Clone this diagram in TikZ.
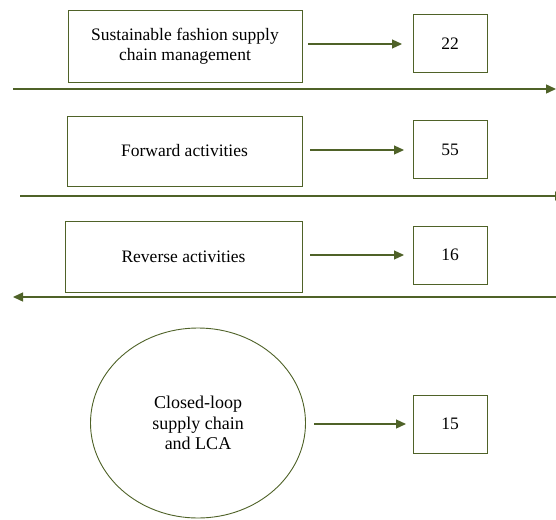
\documentclass[tikz,border=0pt]{standalone}
\usepackage{fontspec}
\setmainfont{Liberation Serif}
\usetikzlibrary{arrows.meta,shapes.geometric}
\definecolor{olive}{RGB}{79,98,40}
\begin{document}
\begin{tikzpicture}[x=1pt,y=-1pt,
  box/.style={draw=olive,line width=0.9pt,fill=white,inner sep=0pt,align=center,font=\fontsize{17.5}{20.5}\selectfont},
  numbox/.style={box,minimum width=74pt,minimum height=58pt},
  lnk/.style={draw=olive,line width=1.2pt,-{Triangle[length=10pt,width=9pt]}},
  longar/.style={draw=olive,line width=1.4pt,-{Triangle[length=10pt,width=9pt]}}]
\useasboundingbox (0,0) rectangle (556,519);
\clip (0,0) rectangle (556,519);
% row 1
\node[box,minimum width=234pt,minimum height=72pt] (a) at (185,46) {Sustainable fashion supply\\chain management};
\node[numbox] (an) at (450,43.5) {22};
\coordinate (a1) at (308,44);
\coordinate (a2) at (402,44);
\draw[lnk] (a1) -- (a2);
\coordinate (l1s) at (13,89);
\coordinate (l1e) at (556,89);
\draw[longar] (l1s) -- (l1e);
% row 2
\node[box,minimum width=235pt,minimum height=70pt] (b) at (184.5,151) {Forward activities};
\node[numbox] (bn) at (450,149.5) {55};
\coordinate (b1) at (310,150);
\coordinate (b2) at (404,150);
\draw[lnk] (b1) -- (b2);
\coordinate (l2s) at (20,196);
\coordinate (l2e) at (565,196);
\draw[longar] (l2s) -- (l2e);
% row 3
\node[box,minimum width=237pt,minimum height=71pt] (c) at (183.5,256.5) {Reverse activities};
\node[numbox] (cn) at (450,255) {16};
\coordinate (c1) at (310,255);
\coordinate (c2) at (404,255);
\draw[lnk] (c1) -- (c2);
\coordinate (l3s) at (556,297);
\coordinate (l3e) at (13,297);
\draw[longar] (l3s) -- (l3e);
% row 4
\node[draw=olive,line width=0.9pt,ellipse,minimum width=215pt,minimum height=190pt,inner sep=0pt,align=center,font=\fontsize{18}{20.5}\selectfont] (d) at (198,423) {Closed-loop\\supply chain\\and LCA};
\node[numbox] (dn) at (450,424) {15};
\coordinate (d1) at (314,424);
\coordinate (d2) at (406,424);
\draw[lnk] (d1) -- (d2);
\end{tikzpicture}
\end{document}
